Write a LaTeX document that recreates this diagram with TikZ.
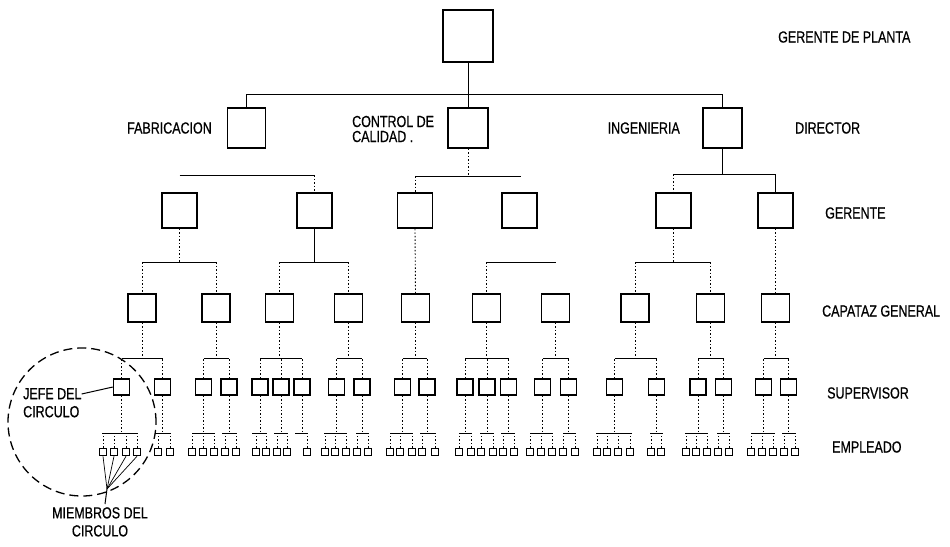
\documentclass[tikz,border=0pt]{standalone}
\usepackage{fontspec}
\newfontfamily\labfont[FakeStretch=0.78,FakeBold=0.6]{Liberation Sans}
\begin{document}
\begin{tikzpicture}[x=1pt,y=-1pt,
  box/.style={draw, line width=1.6pt, inner sep=0pt},
  sbox/.style={box, line width=1.4pt, minimum size=16pt},
  ebox/.style={box, line width=1.1pt, minimum size=7.5pt},
  bus/.style={line width=1pt},
  sconn/.style={line width=1pt},
  dconn/.style={line width=0.9pt, dash pattern=on 1.5pt off 2pt},
  circ/.style={line width=1.3pt, dash pattern=on 9pt off 5pt},
  lab/.style={font=\labfont\fontsize{16}{18}\selectfont, inner sep=0pt}]
\useasboundingbox (0,0) rectangle (950,546);
\fill[white] (0,0) rectangle (950,546);

% top
\node[box, minimum width=50pt, minimum height=52pt] (t) at (468,36) {};
% directors
\node[box, minimum width=38pt, minimum height=40pt] (d1) at (246.5,128) {};
\node[box, minimum width=40pt, minimum height=40pt] (d2) at (468,128) {};
\node[box, minimum width=39pt, minimum height=40pt] (d3) at (722.5,128) {};
\coordinate (tbl) at (246.5,94);
\coordinate (tbr) at (722.5,94);
\draw[sconn] (tbl) -- (tbr);
\draw[sconn] (t.south) -- (d2.north);
\draw[sconn] (tbl) -- (d1.north);
\draw[sconn] (tbr) -- (d3.north);

% gerentes
\foreach \i/\x in {1/179.5,2/314.5,3/415,4/519.5,5/673.5,6/775.5}
  \node[box, minimum size=35pt] (g\i) at (\x,210.5) {};
% director buses
\coordinate (db1l) at (179.5,175); \coordinate (db1r) at (314.5,175);
\coordinate (db2l) at (415,176);   \coordinate (db2r) at (521,176);
\coordinate (db3l) at (673.5,174); \coordinate (db3r) at (775.5,174);
\draw[bus] (db1l) -- (db1r);
\draw[bus] (db2l) -- (db2r);
\draw[bus] (db3l) -- (db3r);
\draw[dconn] (d2.south) -- (d2.south |- db2l);
\draw[sconn] (d3.south) -- (d3.south |- db3l);
\draw[dconn] (db1r) -- (g2.north);
\draw[dconn] (db2l) -- (g3.north);
\draw[dconn] (db3l) -- (g5.north);
\draw[sconn] (db3r) -- (g6.north);

% capataces
\foreach \i/\x in {1/142,2/216,3/279.5,4/348.5,5/415.5,6/486.5,7/555.5,8/635,9/710.5,10/775.5}
  \node[box, minimum size=28pt] (c\i) at (\x,308) {};
% gerente buses
\coordinate (gb1l) at (142,262);   \coordinate (gb1r) at (216,262);
\coordinate (gb2l) at (279.5,262); \coordinate (gb2r) at (348.5,262);
\coordinate (gb4l) at (486.5,262); \coordinate (gb4r) at (555.5,262);
\coordinate (gb5l) at (635,262);   \coordinate (gb5r) at (710.5,262);
\foreach \g in {1,2,4,5} \draw[bus] (gb\g l) -- (gb\g r);
\draw[dconn] (g1.south) -- (g1.south |- gb1l);
\draw[sconn] (g2.south) -- (g2.south |- gb2l);
\draw[dconn] (g5.south) -- (g5.south |- gb5l);
\draw[dconn] (g3.south) -- (c5.north);
\draw[dconn] (g6.south) -- (c10.north);
\draw[dconn] (gb1l) -- (c1.north);
\draw[dconn] (gb1r) -- (c2.north);
\draw[dconn] (gb2l) -- (c3.north);
\draw[dconn] (gb2r) -- (c4.north);
\draw[dconn] (gb4l) -- (c6.north);
\draw[dconn] (gb5l) -- (c8.north);
\draw[dconn] (gb5r) -- (c9.north);

% capataz buses
\foreach \c/\l/\r in {1/121.5/162.5,2/203.5/229,3/260/302,4/336.5/362,5/402.5/427,6/465/508.5,7/542.5/568.5,8/614.5/656.5,9/698/723.5,10/763.5/788.5}{
  \coordinate (cbl\c) at (\l,358);
  \coordinate (cbr\c) at (\r,358);
  \draw[bus] (cbl\c) -- (cbr\c);
  \draw[dconn] (c\c.south) -- (c\c.south |- cbl\c);
}

% supervisors and employees
\foreach \s/\x/\c/\l/\r/\emps in {
  1/121.5/1/102/138/{103,114,126,137},
  2/162.5/1/155/170/{158,170},
  3/203.5/2/192/214/{192,203,214},
  4/229/2/222/236/{225,236},
  5/260/3/252/266/{256,266},
  6/281/3/274/288/{277,287},
  7/302/3/295/308/{307},
  8/336.5/4/324/347/{325,335,346},
  9/362/4/356/368/{357,368},
  10/402.5/5/390/413/{390,400,412},
  11/427/5/420/435/{422,435},
  12/465/6/459/472/{459,471},
  13/487/6/480/493/{481,493},
  14/508.5/6/501/514/{503,514},
  15/542.5/7/530/553/{530,541,552},
  16/568.5/7/563/575/{563,575},
  17/614.5/8/596/632/{597,607,618,630},
  18/656.5/8/650/663/{651,661},
  19/698/9/685/708/{686,696,707},
  20/723.5/9/717/730/{718,729},
  21/763.5/10/751/775/{751,762,773},
  22/788.5/10/782/796/{784,795}}{
  \node[sbox] (s\s) at (\x,387) {};
  \draw[dconn] (s\s.north) -- (s\s.north |- cbl\c);
  \coordinate (ebl\s) at (\l,433);
  \coordinate (ebr\s) at (\r,433);
  \draw[bus] (ebl\s) -- (ebr\s);
  \draw[dconn] (s\s.south) -- (s\s.south |- ebl\s);
  \foreach \e [count=\k] in \emps {
    \node[ebox] (e\s-\k) at (\e,452) {};
    \draw[dconn] (e\s-\k.north) -- (e\s-\k.north |- ebl\s);
  }
}

% circle of quality
\draw[circ] (82,422) circle[radius=74pt];
\node[lab, align=left, anchor=north west] (jlab) at (23,388) {JEFE DEL\\[0pt]CIRCULO};
\draw[sconn] ([yshift=-6pt]jlab.north east) -- (s1.west);
\coordinate (mp) at (107,489);
\coordinate (mq) at (105,504);
\foreach \k in {1,...,4} \draw[line width=0.7pt] (e1-\k.south) -- (mp);
\draw[sconn] (mp) -- (mq);
\node[lab, align=center, anchor=north] (mlab) at (100,507) {MIEMBROS DEL\\[0pt]CIRCULO};

% director labels
\node[lab, anchor=east] (lfab) at (212,128) {FABRICACION};
\node[lab, anchor=west, align=left] (lcon) at (352,129) {CONTROL DE\\[-3pt]CALIDAD .};
\node[lab, anchor=east] (ling) at (680,128) {INGENIERIA};

% level labels
\node[lab, anchor=west] (l1) at (778,37) {GERENTE DE PLANTA};
\node[lab, anchor=west] (l2) at (795,128) {DIRECTOR};
\node[lab, anchor=west] (l3) at (825,213) {GERENTE};
\node[lab, anchor=west] (l4) at (822,311) {CAPATAZ GENERAL};
\node[lab, anchor=west] (l5) at (827,393) {SUPERVISOR};
\node[lab, anchor=west] (l6) at (832,447) {EMPLEADO};
\end{tikzpicture}
\end{document}
